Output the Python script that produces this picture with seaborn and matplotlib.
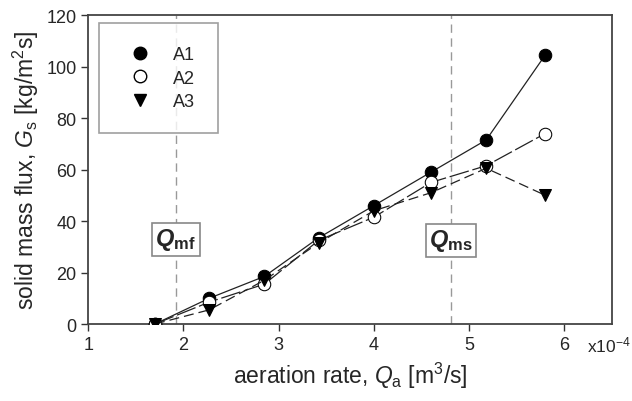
import numpy as np
import pandas as pd
import matplotlib
matplotlib.use("Agg")
import matplotlib.pyplot as plt
from matplotlib.lines import Line2D
import seaborn as sns

# aeration rate (x1e-4 m3/s) and solid mass flux (kg/m2s)
qa = [1.7, 2.27, 2.85, 3.42, 4.0, 4.6, 5.18, 5.8]
gs_a1 = [0.0, 10.0, 18.5, 33.5, 46.0, 59.0, 71.5, 104.5]
gs_a2 = [0.0, 8.5, 15.5, 32.5, 41.5, 55.0, 61.5, 74.0]
gs_a3 = [0.0, 5.5, 17.0, 31.5, 44.0, 51.0, 60.5, 50.0]
q_mf = 1.92
q_ms = 4.81

sns.set_style("ticks")
plt.rcParams['font.family'] = ['Liberation Sans', 'DejaVu Sans']
plt.rcParams['mathtext.fontset'] = 'custom'
plt.rcParams['mathtext.rm'] = 'Liberation Sans'
plt.rcParams['mathtext.it'] = 'Liberation Sans:italic'
plt.rcParams['mathtext.bf'] = 'Liberation Sans:bold:italic'
plt.rcParams['mathtext.sf'] = 'Liberation Sans:bold'

fig = plt.figure(figsize=(6.32, 4.02), dpi=100)
ax = fig.add_axes([0.1397, 0.1915, 0.8285, 0.7685])

df = pd.DataFrame({'qa': qa, 'A1': gs_a1, 'A2': gs_a2, 'A3': gs_a3})

sns.lineplot(data=df, x='qa', y='A1', ax=ax, color='#222222', lw=0.9,
             marker='o', markersize=9, markerfacecolor='black',
             markeredgecolor='black', zorder=3)
sns.lineplot(data=df, x='qa', y='A2', ax=ax, color='#222222', lw=0.9,
             dashes=(16, 3), marker='o', markersize=9,
             markerfacecolor='white', markeredgecolor='black', zorder=3)
sns.lineplot(data=df, x='qa', y='A3', ax=ax, color='#222222', lw=0.9,
             dashes=(8, 4), marker='v', markersize=9,
             markerfacecolor='black', markeredgecolor='black', zorder=3)

for q in (q_mf, q_ms):
    ax.axvline(q, color='#999999', lw=1.0, dashes=(6, 4), zorder=1)

box = dict(boxstyle='square,pad=0.15', fc='white', ec='#888888', lw=1.2)
ax.text(q_mf, 33.0, r'$\mathbf{Q}_{\mathsf{mf}}$', ha='center', va='center',
        fontsize=17, bbox=box, zorder=2)
ax.text(q_ms, 32.5, r'$\mathbf{Q}_{\mathsf{ms}}$', ha='center', va='center',
        fontsize=17, bbox=box, zorder=2)

ax.set_xlim(1, 6.5)
ax.set_ylim(0, 120)
ax.set_xticks([1, 2, 3, 4, 5, 6])
ax.set_yticks([0, 20, 40, 60, 80, 100, 120])
ax.tick_params(labelsize=13, length=5, width=1, color='#333333', direction='out')
for s in ax.spines.values():
    s.set_visible(True)
    s.set_color('#444444')
    s.set_linewidth(1.3)

ax.set_xlabel(r'aeration rate, $Q_{\mathrm{a}}$ [m$^{3}$/s]', fontsize=16.5, labelpad=5)
ax.set_ylabel(r'solid mass flux, $G_{\mathrm{s}}$ [kg/m$^{2}$s]', fontsize=16.5, labelpad=4)
ax.text(0.953, -0.065, r'x10$^{-4}$', transform=ax.transAxes, fontsize=12.5,
        ha='left', va='center')

handles = [
    Line2D([], [], ls='none', marker='o', ms=9, mfc='black', mec='black'),
    Line2D([], [], ls='none', marker='o', ms=9, mfc='white', mec='black'),
    Line2D([], [], ls='none', marker='v', ms=9, mfc='black', mec='black'),
]
leg = ax.legend(handles, ['A1', 'A2', 'A3'], loc='upper left',
                bbox_to_anchor=(0.02, 0.975), borderaxespad=0,
                fontsize=13, frameon=True, fancybox=False,
                borderpad=1.3, labelspacing=0.35, handletextpad=0.8,
                handlelength=2.0)
leg.get_frame().set_edgecolor('#888888')
leg.get_frame().set_linewidth(1.2)

fig.savefig('out.png', dpi=100)
